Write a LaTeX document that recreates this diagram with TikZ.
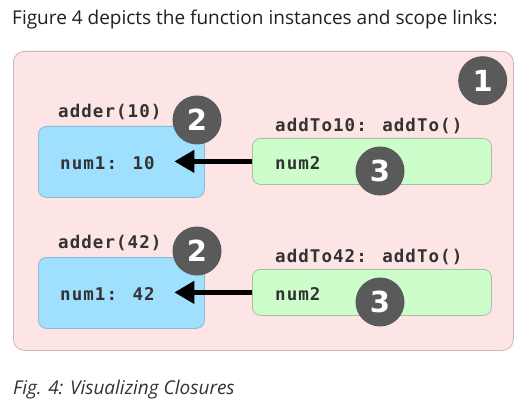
\documentclass[tikz,border=0pt]{standalone}
\usepackage{fontspec}
\setmainfont{Open Sans}
\newfontfamily\codefont[LetterSpace=6]{DejaVu Sans Mono}
\newfontfamily\badgefont{DejaVu Sans}
\usetikzlibrary{arrows.meta}
\definecolor{scopefill}{HTML}{FCE5E4}
\definecolor{scopeline}{HTML}{CDB5B5}
\definecolor{adderfill}{HTML}{A0E0FF}
\definecolor{adderline}{HTML}{8CBAD2}
\definecolor{addtofill}{HTML}{CCFDCA}
\definecolor{addtoline}{HTML}{A2C2A0}
\definecolor{badgefill}{HTML}{5A5A5A}
\definecolor{codetext}{HTML}{333333}
\tikzset{
	outerbox/.style={draw=scopeline, fill=scopefill, line width=0.8, rounded corners=11, anchor=north west, inner sep=0},
	adderbox/.style={draw=adderline, fill=adderfill, line width=0.8, rounded corners=8, anchor=north west, inner sep=0, minimum width=166, minimum height=71},
	addtobox/.style={draw=addtoline, fill=addtofill, line width=0.8, rounded corners=8, anchor=north west, inner sep=0, minimum width=239, minimum height=46},
	code/.style={anchor=west, inner sep=0, text=codetext, font=\codefont\bfseries\fontsize{17.5}{20}\selectfont},
	badge/.style={circle, fill=badgefill, inner sep=0, minimum size=49, text=white, font=\badgefont\bfseries\fontsize{29}{30}\selectfont},
	link/.style={line width=4.5, -{Triangle[length=20, width=22]}, shorten >=19.5},
}
\begin{document}
\begin{tikzpicture}[x=1pt,y=-1pt]
	\useasboundingbox (0,0) rectangle (530,409);
	\node [anchor=base west, inner sep=0, text=black!88, font=\fontsize{19}{22}\selectfont] (title) at (12,25) {Figure 4 depicts the function instances and scope links:};
	\node [outerbox, minimum width=500, minimum height=299] (closure) at (13,51) {};
	% first closure
	\node [adderbox] (adderA) at (38,126) {};
	\node [addtobox] (addtoA) at (252,138) {};
	\node [code] (adderAlabel) at (58,112) {adder(10)};
	\node [code] (addtoAlabel) at (275,126) {addTo10: addTo()};
	\node [code] (numA) at (60,163) {num1: 10};
	\node [code] (argA) at (275,163) {num2};
	\draw [link] (addtoA.west) -- (numA.east |- addtoA.west);
	% second closure
	\node [adderbox] (adderB) at (38,257) {};
	\node [addtobox] (addtoB) at (252,269) {};
	\node [code] (adderBlabel) at (58,243) {adder(42)};
	\node [code] (addtoBlabel) at (275,257) {addTo42: addTo()};
	\node [code] (numB) at (60,294) {num1: 42};
	\node [code] (argB) at (275,294) {num2};
	\draw [link] (addtoB.west) -- (numB.east |- addtoB.west);
	% badges
	\node [badge] (one) at (482.7,80.7) {1};
	\node [badge] (twoA) at (197,120) {2};
	\node [badge] (threeA) at (380,171) {3};
	\node [badge] (twoB) at (197,251) {2};
	\node [badge] (threeB) at (380,302) {3};
	\node [anchor=base west, inner sep=0, text=black!80, font=\itshape\fontsize{19}{22}\selectfont] (caption) at (13,394) {Fig. 4: Visualizing Closures};
\end{tikzpicture}
\end{document}
